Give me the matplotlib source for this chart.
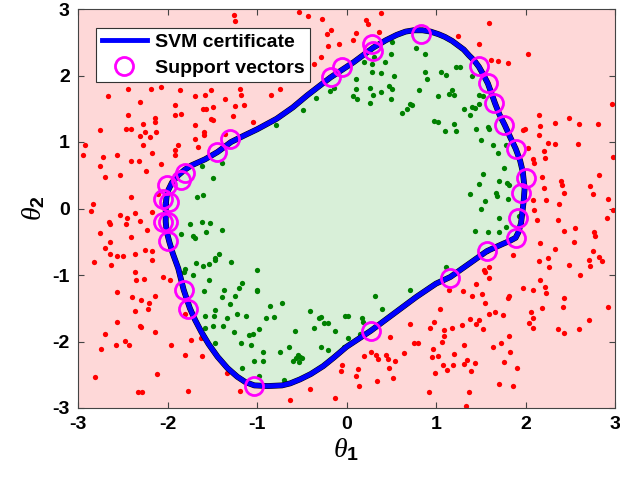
import numpy as np
import matplotlib
matplotlib.use("Agg")
import matplotlib.pyplot as plt

plt.rcParams['font.family'] = ['Liberation Sans', 'DejaVu Sans']
plt.rcParams['mathtext.fontset'] = 'custom'
plt.rcParams['mathtext.rm'] = 'Liberation Sans'
plt.rcParams['mathtext.bf'] = 'Liberation Sans:bold'
plt.rcParams['mathtext.it'] = 'Liberation Serif:italic'
plt.rcParams['axes.unicode_minus'] = False

######################################################################################################################
# data (theta_1, theta_2)
red_points = [
    (-1.257, 2.91), (-1.249, 2.825), (-2.441, 1.80), (-2.188, 1.80), (-2.069, 1.825), (-1.864, 1.775),
    (-1.689, 1.69), (-1.585, 1.71), (-1.517, 1.775), (-1.361, 1.65), (-1.193, 1.80), (-1.175, 1.70),
    (-2.665, 1.685), (-2.311, 1.60), (-1.920, 1.56), (-1.603, 1.50), (-1.566, 1.49), (-1.491, 1.52),
    (-1.249, 1.54), (-1.145, 1.55), (-2.441, 1.40), (-2.136, 1.36), (-2.143, 1.30), (-1.920, 1.40),
    (-1.845, 1.425), (-1.510, 1.35), (-1.491, 1.325), (-1.268, 1.39), (-1.044, 1.30), (-2.758, 1.175),
    (-2.460, 1.20), (-2.404, 1.20), (-2.274, 1.275), (-2.125, 1.15), (-1.689, 1.25), (-1.592, 1.15),
    (-1.592, 1.11), (-1.361, 1.125), (-2.311, 1.09), (-2.255, 1.15), (-2.199, 1.075), (-1.883, 0.95),
    (-1.696, 1.04), (-2.274, 0.95), (-2.925, 0.95), (-2.944, 0.80), (-2.721, 0.775), (-2.560, 0.80),
    (-2.404, 0.71), (-2.322, 0.71), (-2.173, 0.84), (-1.920, 0.875), (-1.920, 0.80), (-1.659, 0.925),
    (-2.758, 0.635), (-2.534, 0.50), (-2.702, 0.475), (-2.236, 0.56), (-2.069, 0.67), (-2.404, 0.175),
    (-2.832, 0.075), (-2.106, 0.225),
    (-0.534, 2.95), (-0.434, 2.90), (-0.274, 2.85), (0.222, 2.84), (0.237, 2.775), (0.386, 2.94),
    (-0.173, 2.69), (-0.218, 2.625), (0.110, 2.64), (0.360, 2.66), (0.073, 2.54), (-0.087, 2.475),
    (-0.210, 2.44), (-0.285, 2.275), (-0.367, 2.175), (-0.739, 1.79), (-0.844, 1.71),
    (1.589, 2.79), (1.242, 2.59), (1.484, 2.475), (2.024, 2.325), (1.615, 2.24), (1.689, 2.225),
    (1.801, 2.19), (2.967, 1.575), (2.155, 1.41), (2.483, 1.36), (2.594, 1.275), (2.807, 1.275),
    (2.334, 1.29), (2.162, 1.24), (1.998, 1.20), (1.976, 1.175), (2.147, 1.11), (2.248, 0.99),
    (2.334, 0.975), (2.583, 0.975), (2.024, 0.91), (2.080, 0.75), (2.211, 0.86), (2.222, 0.76),
    (2.974, 0.775), (2.099, 0.69), (2.825, 0.51), (2.185, 0.475), (2.397, 0.41), (2.408, 0.36),
    (2.721, 0.34), (2.751, 0.225), (2.434, 0.24), (2.211, 0.31), (2.918, 0.14), (2.080, 0.125),
    (2.229, 0.125), (2.378, 0.075),
    (-2.851, -0.04), (-2.534, -0.10), (-2.449, -0.15), (-2.367, -0.075), (-2.173, -0.06), (-2.657, -0.21),
    (-2.646, -0.24), (-2.460, -0.24), (-2.311, -0.19), (-2.225, -0.325), (-2.758, -0.375), (-2.411, -0.425),
    (-2.646, -0.51), (-2.695, -0.59), (-2.248, -0.625), (-2.173, -0.64), (-2.646, -0.69), (-2.560, -0.71),
    (-2.497, -0.71), (-2.359, -0.69), (-2.173, -0.775), (-2.821, -0.80), (-2.628, -0.85), (-2.359, -0.95),
    (-2.348, -1.075), (-2.262, -1.06), (-2.050, -1.025), (-1.976, -1.075), (-2.560, -1.26), (-2.397, -1.325),
    (-2.292, -1.375), (-2.136, -1.31), (-2.210, -1.425), (-2.367, -1.54), (-2.218, -1.51), (-2.311, -1.76),
    (-2.292, -1.785), (-2.560, -1.71), (-2.136, -1.86), (-2.695, -1.89), (-2.479, -1.99), (-2.434, -2.05),
    (-2.572, -2.05), (-2.739, -2.11), (-1.957, -2.06), (-1.808, -2.20), (-1.733, -1.975), (-1.614, -2.225),
    (-1.629, -1.95), (-2.806, -2.54), (-2.113, -2.49), (-2.330, -2.76), (-2.285, -2.76), (-1.771, -2.75),
    (-1.331, -2.475), (-1.193, -2.74), (-1.801, -1.59),
    (-0.635, -2.875), (-0.411, -2.71), (-0.125, -2.85), (-0.050, -2.35), (-0.061, -2.45), (0.110, -2.525),
    (0.125, -2.41), (0.136, -2.675), (0.192, -2.225), (0.274, -2.16), (0.334, -2.20), (0.348, -2.26),
    (0.341, -2.59), (0.445, -2.21), (0.460, -2.26), (0.471, -2.40), (0.520, -2.55), (0.546, -2.30),
    (0.490, -1.925), (0.639, -2.175), (0.706, -1.74), (0.751, -2.025), (0.795, -2.025), (0.937, -1.79),
    (0.918, -2.76), (0.967, -2.11), (0.956, -2.24), (0.993, -2.475), (0.974, -1.71),
    (2.099, -0.025), (2.974, -0.025), (2.125, -0.175), (2.360, -0.175), (2.434, -0.34), (2.557, -0.30),
    (2.769, -0.35), (2.781, -0.41), (2.907, -0.15), (2.546, -0.51), (2.162, -0.525), (2.334, -0.61),
    (2.758, -0.64), (2.818, -0.725), (2.855, -0.79), (2.706, -0.775), (2.721, -0.86), (2.609, -1.00),
    (2.483, -0.85), (2.248, -0.74), (2.267, -0.875), (2.147, -0.79), (1.864, -0.70), (1.589, -0.875),
    (1.540, -0.925), (1.551, -0.96), (1.589, -1.04), (1.447, -1.14), (1.142, -1.225), (1.298, -1.24),
    (1.402, -1.31), (1.514, -1.29), (1.969, -1.19), (1.812, -1.31), (1.801, -1.34), (2.088, -1.225),
    (2.222, -1.175), (2.229, -1.275), (2.434, -1.34), (2.416, -1.475), (2.162, -1.075), (1.551, -1.425),
    (2.185, -1.49), (2.918, -1.475), (1.045, -1.51), (1.589, -1.59), (1.663, -1.56), (1.752, -1.60),
    (2.062, -1.56), (2.088, -1.64), (2.036, -1.725), (2.080, -1.79), (2.360, -1.81), (2.434, -1.875),
    (2.594, -1.81), (2.706, -1.675), (1.380, -1.66), (1.477, -1.675), (1.447, -1.74), (1.522, -1.81),
    (1.291, -1.75), (1.179, -1.79), (1.093, -1.825), (1.093, -1.91), (1.067, -2.01), (1.820, -1.91),
    (1.726, -2.025), (1.641, -2.09), (1.317, -2.06), (1.827, -2.16), (1.205, -2.19), (1.019, -2.225),
    (1.343, -2.275), (1.440, -2.325), (1.317, -2.34), (1.194, -2.35), (1.082, -2.35), (1.119, -2.425),
    (1.391, -2.44), (1.764, -2.31), (1.901, -2.40), (1.700, -2.64), (1.857, -2.675), (1.365, -2.76),
    (1.335, -2.975),
]

green_points = [
    (-1.614, 0.64), (-1.488, 0.46), (-1.666, 0.175), (-1.599, 0.21), (-1.391, 0.69),
    (0.509, 2.50), (0.781, 2.41), (0.881, 2.325), (0.497, 2.325), (0.192, 2.20), (0.434, 2.20),
    (0.285, 2.05), (0.386, 2.04), (0.527, 2.00), (0.881, 2.06), (0.900, 1.95), (0.106, 1.94),
    (0.267, 1.81), (0.103, 1.79), (0.471, 1.84), (0.509, 1.80), (0.296, 1.70), (0.386, 1.75),
    (0.073, 1.69), (0.118, 1.65), (0.497, 1.65), (0.267, 1.585), (0.807, 1.775), (0.714, 1.575),
    (0.732, 1.55), (0.676, 1.50), (0.620, 1.44), (-0.486, 1.475), (-0.337, 1.66), (-0.188, 1.76),
    (-0.136, 1.81), (-0.784, 1.25), (0.982, 1.31), (0.304, 2.275), (0.285, 2.175),
    (1.056, 2.05), (1.112, 2.01), (1.224, 2.125), (1.268, 2.125), (1.019, 1.69), (1.149, 1.725),
    (1.205, 1.70), (1.179, 1.775), (1.402, 1.99), (1.477, 1.71), (1.522, 1.69), (1.317, 1.50),
    (1.402, 1.525), (1.440, 1.51), (1.484, 1.575), (1.384, 1.40), (1.019, 1.30), (1.205, 1.275),
    (1.224, 1.16), (1.104, 1.16), (1.447, 1.19), (1.577, 1.225), (1.596, 1.20), (1.503, 1.025),
    (1.641, 0.95), (1.689, 0.84), (1.782, 0.96), (1.764, 0.61), (1.522, 0.525), (1.477, 0.375),
    (1.708, 0.41), (1.790, 0.39), (1.812, 0.36), (1.671, 0.24), (1.678, 0.19), (1.551, 0.11),
    (1.801, 0.14), (1.380, 0.225),
    (-1.752, -0.24), (-1.614, -0.21), (-1.529, -0.225), (-1.391, -0.325), (-1.715, -0.41), (-1.689, -0.44),
    (-1.566, -0.35), (-1.853, -0.39), (-1.801, -0.91), (-1.816, -0.96), (-1.715, -1.00), (-1.678, -0.825),
    (-1.603, -0.86), (-1.540, -0.84), (-1.473, -0.74), (-1.428, -0.69), (-1.465, -0.775), (-1.287, -0.80),
    (-1.540, -1.075), (-1.592, -1.24), (-1.368, -1.225), (-1.391, -1.325), (-1.205, -1.19), (-1.167, -1.125),
    (-0.996, -1.225), (-1.242, -1.31), (-1.305, -1.44), (-1.465, -1.525), (-1.577, -1.61), (-1.480, -1.61),
    (-1.331, -1.65), (-1.219, -1.59), (-1.119, -1.61), (-1.380, -1.76), (-1.491, -1.76), (-1.585, -1.79),
    (-1.257, -1.85), (-1.093, -1.90), (-1.044, -1.89), (-1.063, -2.05), (-1.182, -2.025), (-1.465, -2.025),
    (-1.033, -2.30), (-1.167, -2.40),
    (-1.0, -0.925), (-1.0, -1.24), (-0.851, -1.46), (-0.721, -1.425), (-0.896, -1.65), (-0.814, -1.625),
    (-0.981, -1.81), (-0.411, -1.54), (-0.311, -1.65), (-0.285, -1.625), (-0.367, -1.80), (-0.255, -1.725),
    (-0.210, -1.725), (-0.572, -1.84), (-0.125, -1.84), (-0.013, -1.61), (0.013, -1.61), (0.173, -1.64),
    (0.185, -1.71), (0.013, -1.94), (-0.646, -2.09), (-0.747, -2.16), (-0.933, -2.16), (-0.285, -2.09),
    (-0.210, -2.125), (-0.546, -2.21), (-0.523, -2.24), (-0.560, -2.25), (-0.497, -2.25), (-0.534, -2.31),
    (-0.598, -2.30), (-0.933, -2.29), (0.322, -1.31), (0.397, -1.51), (0.714, -1.225), (-0.981, -2.525),
    (-0.702, -2.575), (-0.024, -2.09), (0.155, -1.89),
    (1.503, -0.01), (1.700, -0.15), (1.782, -0.275), (1.440, -0.34), (1.577, -0.36), (1.700, -0.36),
    (1.924, -0.11), (1.112, -0.875), (1.566, -0.64),
]

support_vectors = [
    (0.83, 2.62), (0.29, 2.48), (0.30, 2.37), (-0.05, 2.13), (-0.17, 1.98), (-1.30, 1.04),
    (-1.45, 0.85), (-1.80, 0.54), (-1.85, 0.43), (-2.01, 0.35), (-2.05, 0.14), (-1.98, 0.10),
    (-2.05, -0.20), (-2.00, -0.20), (-2.00, -0.49), (-1.82, -1.23), (-1.77, -1.51), (-1.03, -2.67),
    (0.27, -1.84), (1.16, -1.04), (1.57, -0.64), (1.89, -0.44), (1.92, -0.14), (1.95, 0.24),
    (2.00, 0.46), (1.89, 0.90), (1.76, 1.25), (1.65, 1.59), (1.58, 1.89), (1.48, 2.15),
]

boundary = [
    (-2.02, 0.05), (-2.01, 0.18), (-1.99, 0.28), (-1.95, 0.39), (-1.88, 0.50), (-1.81, 0.58),
    (-1.73, 0.65), (-1.58, 0.74), (-1.44, 0.85), (-1.29, 1.00), (-1.14, 1.10), (-1.00, 1.19),
    (-0.78, 1.35), (-0.60, 1.52), (-0.44, 1.70), (-0.18, 1.97), (0.08, 2.20), (0.30, 2.42),
    (0.44, 2.53), (0.56, 2.61), (0.66, 2.66), (0.75, 2.68), (0.85, 2.68), (0.94, 2.66),
    (1.03, 2.62), (1.10, 2.58), (1.18, 2.52), (1.24, 2.46), (1.31, 2.39), (1.37, 2.30),
    (1.43, 2.22), (1.48, 2.13), (1.53, 2.01), (1.58, 1.88), (1.62, 1.73), (1.66, 1.58),
    (1.71, 1.41), (1.77, 1.25), (1.83, 1.07), (1.89, 0.90), (1.94, 0.72), (1.97, 0.55),
    (1.99, 0.30), (1.98, 0.12), (1.97, 0.00), (1.95, -0.22), (1.92, -0.36), (1.89, -0.44),
    (1.82, -0.49), (1.75, -0.53), (1.57, -0.64), (1.36, -0.84), (1.16, -1.03), (1.00, -1.13),
    (0.78, -1.33), (0.56, -1.55), (0.27, -1.84), (0.00, -2.08), (-0.14, -2.24), (-0.26, -2.37),
    (-0.40, -2.49), (-0.52, -2.57), (-0.63, -2.63), (-0.72, -2.66), (-0.88, -2.67), (-1.03, -2.66),
    (-1.13, -2.61), (-1.22, -2.53), (-1.33, -2.40), (-1.44, -2.23), (-1.54, -2.04), (-1.62, -1.86),
    (-1.69, -1.68), (-1.75, -1.50), (-1.82, -1.22), (-1.88, -0.90), (-1.94, -0.68), (-1.98, -0.50),
    (-2.01, -0.34), (-2.02, -0.20), (-2.02, 0.05),
]

ticks = [-3, -2, -1, 0, 1, 2, 3]
######################################################################################################################
red = np.array(red_points)
green = np.array(green_points)
sv = np.array(support_vectors)
bd = np.array(boundary)

fig = plt.figure(figsize=(6.2, 4.91), dpi=100)
ax = fig.add_axes([78 / 620, 83 / 491, 537 / 620, 399 / 491])
ax.set_facecolor('#FED8D8')

ax.fill(bd[:, 0], bd[:, 1], color='#D8EFD8', zorder=1)
ax.plot(red[:, 0], red[:, 1], 'o', color='#FF0000', markersize=3.8, markeredgewidth=0, zorder=2)
ax.plot(green[:, 0], green[:, 1], 'o', color='#008000', markersize=3.8, markeredgewidth=0, zorder=2)
ax.plot(bd[:, 0], bd[:, 1], '-', color='black', linewidth=4.2, zorder=3, solid_joinstyle='round')
ax.plot(bd[:, 0], bd[:, 1], '-', color='#0000FF', linewidth=3.5, zorder=4, solid_joinstyle='round',
        label='SVM certificate')
ax.plot(sv[:, 0], sv[:, 1], 'o', markerfacecolor='none', markeredgecolor='#FF00FF', markersize=13,
        markeredgewidth=2.0, zorder=5, label='Support vectors')

ax.set_xlim(-3, 3)
ax.set_ylim(-3, 3)
ax.set_xticks(ticks)
ax.set_yticks(ticks)
ax.tick_params(direction='in', top=True, right=True, labelsize=14, length=4, color='#444444', pad=6)
for lab in ax.get_xticklabels() + ax.get_yticklabels():
    lab.set_fontweight('bold')
for sp in ax.spines.values():
    sp.set_color('#444444')
    sp.set_linewidth(0.8)

ax.set_xlabel(r'$\theta_\mathbf{1}$', fontsize=20, labelpad=2)
ax.set_ylabel(r'$\theta_\mathbf{2}$', fontsize=20, labelpad=4)

leg = ax.legend(loc='upper left', bbox_to_anchor=(0.034, 0.953), borderaxespad=0, fancybox=False,
                prop={'weight': 'bold', 'size': 14}, handlelength=2.3, framealpha=1,
                edgecolor='#333333', borderpad=0.3, labelspacing=0.4, handletextpad=0.4)
leg.get_frame().set_linewidth(0.8)

fig.savefig('out.png', dpi=100)
